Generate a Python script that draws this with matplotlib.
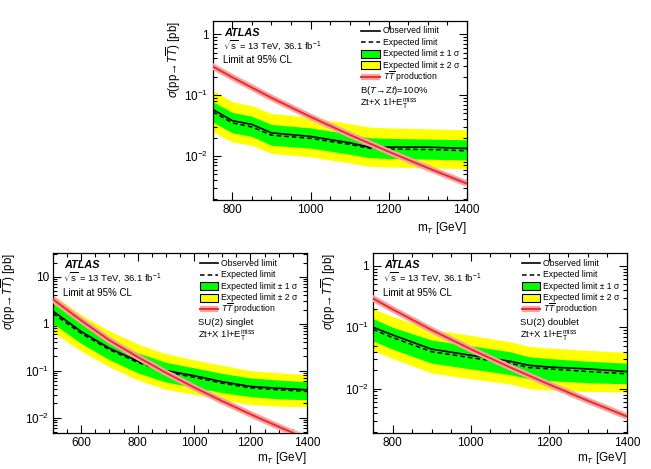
import numpy as np
import matplotlib
matplotlib.use('Agg')
import matplotlib.pyplot as plt
from matplotlib.patches import Rectangle
from matplotlib.ticker import MultipleLocator, FuncFormatter, NullFormatter, LogLocator

plt.rcParams['font.family'] = ['Liberation Sans', 'DejaVu Sans']
plt.rcParams['mathtext.fontset'] = 'custom'
plt.rcParams['mathtext.rm'] = 'Liberation Sans'
plt.rcParams['mathtext.it'] = 'Liberation Sans:italic'
plt.rcParams['mathtext.bf'] = 'Liberation Sans:bold'

# TT production cross section (pb)
tt_mass = [500, 600, 700, 800, 900, 1000, 1100, 1200, 1300, 1400]
tt_xsec = [3.30, 1.17, 0.442, 0.196, 0.0903, 0.0440, 0.0224, 0.0118, 0.00638, 0.00353]

# Top panel: B(T->Zt)=100%
zt_mass = [750, 800, 850, 900, 1000, 1100, 1150, 1200, 1300, 1400]
zt_obs = [0.058, 0.038, 0.033, 0.024, 0.021, 0.0165, 0.014, 0.014, 0.014, 0.0133]
zt_exp = [0.053, 0.035, 0.030, 0.022, 0.0195, 0.0155, 0.0135, 0.013, 0.0128, 0.0122]
zt_g_hi = [0.078, 0.052, 0.045, 0.033, 0.029, 0.023, 0.020, 0.0195, 0.019, 0.0185]
zt_g_lo = [0.036, 0.024, 0.021, 0.015, 0.0135, 0.0107, 0.0094, 0.0091, 0.0089, 0.0086]
zt_y_hi = [0.12, 0.078, 0.067, 0.050, 0.043, 0.034, 0.030, 0.029, 0.028, 0.027]
zt_y_lo = [0.025, 0.017, 0.015, 0.011, 0.0097, 0.0077, 0.0068, 0.0066, 0.0064, 0.0062]

# Bottom left: SU(2) singlet
sing_mass = [500, 600, 700, 800, 900, 1000, 1100, 1200, 1300, 1400]
sing_obs = [1.85, 0.68, 0.30, 0.16, 0.10, 0.078, 0.058, 0.046, 0.042, 0.039]
sing_exp = [1.65, 0.62, 0.28, 0.15, 0.094, 0.072, 0.054, 0.043, 0.039, 0.036]
sing_g_hi = [2.7, 1.0, 0.45, 0.24, 0.15, 0.115, 0.087, 0.070, 0.063, 0.058]
sing_g_lo = [1.0, 0.38, 0.17, 0.09, 0.057, 0.044, 0.034, 0.028, 0.025, 0.024]
sing_y_hi = [4.1, 1.55, 0.70, 0.37, 0.23, 0.17, 0.13, 0.10, 0.09, 0.082]
sing_y_lo = [0.66, 0.26, 0.12, 0.063, 0.040, 0.031, 0.024, 0.019, 0.0175, 0.017]

# Bottom right: SU(2) doublet
doub_mass = [750, 800, 900, 1000, 1100, 1150, 1200, 1300, 1400]
doub_obs = [0.10, 0.075, 0.044, 0.035, 0.028, 0.024, 0.0225, 0.021, 0.019]
doub_exp = [0.092, 0.068, 0.040, 0.032, 0.026, 0.022, 0.021, 0.019, 0.0175]
doub_g_hi = [0.138, 0.10, 0.062, 0.050, 0.040, 0.033, 0.031, 0.028, 0.026]
doub_g_lo = [0.060, 0.044, 0.026, 0.021, 0.017, 0.0145, 0.0135, 0.0125, 0.012]
doub_y_hi = [0.20, 0.15, 0.092, 0.074, 0.058, 0.049, 0.046, 0.042, 0.039]
doub_y_lo = [0.042, 0.031, 0.018, 0.0145, 0.012, 0.010, 0.0095, 0.009, 0.0088]

legend_labels = ['Observed limit', 'Expected limit', 'Expected limit \u00b1 1 \u03c3',
                 'Expected limit \u00b1 2 \u03c3', r'$T\overline{T}$ production']

GREEN = '#00ff00'
YELLOW = '#ffff00'
RED = '#ee2a2a'
PINK = '#f6a3a3'
DASH = (0, (3, 2))


def ylab(v, pos):
    e = int(round(np.log10(v)))
    if e == 0:
        return '1'
    if e == 1:
        return '10'
    return r'$10^{%d}$' % e


def draw_legend(ax, x0):
    # ROOT-like legend, drawn by hand so the rows are evenly spaced
    rows = [0.944, 0.880, 0.816, 0.752, 0.688]
    w = 0.072
    tr = ax.transAxes
    kw = dict(transform=tr, clip_on=False)
    ax.plot([x0, x0 + w], [rows[0]] * 2, color='k', lw=1.2, **kw)
    ax.plot([x0, x0 + w], [rows[1]] * 2, color='k', lw=1.1, ls=DASH, **kw)
    ax.add_patch(Rectangle((x0, rows[2] - 0.022), w, 0.044, facecolor=GREEN, edgecolor='k', lw=0.8, **kw))
    ax.add_patch(Rectangle((x0, rows[3] - 0.022), w, 0.044, facecolor=YELLOW, edgecolor='k', lw=0.8, **kw))
    ax.plot([x0, x0 + w], [rows[4]] * 2, color=PINK, lw=4.5, solid_capstyle='butt', **kw)
    ax.plot([x0, x0 + w], [rows[4]] * 2, color=RED, lw=1.4, **kw)
    for y, lab in zip(rows, legend_labels):
        ax.text(x0 + w + 0.012, y, lab, transform=tr, fontsize=6.2, va='center')


def draw_panel(ax, m, obs, exp, g_lo, g_hi, y_lo, y_hi, xlim, ylim, text1, text2,
               leg_x, ylab_x, xlab_y):
    ax.fill_between(m, y_lo, y_hi, color=YELLOW, lw=0, zorder=1)
    ax.fill_between(m, g_lo, g_hi, color=GREEN, lw=0, zorder=2)
    ax.plot(m, exp, color='k', lw=1.1, ls=DASH, zorder=3)
    ax.plot(m, obs, color='k', lw=1.2, zorder=4)
    ax.plot(tt_mass, tt_xsec, color=PINK, lw=4.5, solid_capstyle='butt', zorder=5)
    ax.plot(tt_mass, tt_xsec, color=RED, lw=1.4, zorder=6)

    ax.set_yscale('log')
    ax.set_xlim(xlim)
    ax.set_ylim(ylim)
    ax.xaxis.set_major_locator(MultipleLocator(200))
    ax.xaxis.set_minor_locator(MultipleLocator(50))
    ax.yaxis.set_major_locator(LogLocator(base=10))
    ax.yaxis.set_minor_locator(LogLocator(base=10, subs=np.arange(2, 10)))
    ax.yaxis.set_major_formatter(FuncFormatter(ylab))
    ax.yaxis.set_minor_formatter(NullFormatter())
    ax.tick_params(which='both', direction='in', top=True, right=True, labelsize=8.5, width=0.8)
    ax.tick_params(which='major', length=5.5, pad=3)
    ax.tick_params(which='minor', length=3)
    for s in ax.spines.values():
        s.set_linewidth(0.9)

    ax.set_xlabel(r'm$_{T}$ [GeV]', fontsize=8.5, ha='right', va='center')
    ax.xaxis.set_label_coords(1.0, xlab_y)
    ax.set_ylabel(r'$\sigma(\mathrm{pp}\!\rightarrow\! T\overline{T})$ [pb]', fontsize=8.3, ha='right')
    ax.yaxis.set_label_coords(ylab_x, 1.0)

    ax.text(0.045, 0.935, 'ATLAS', transform=ax.transAxes, fontsize=7.8,
            fontweight='bold', fontstyle='italic', va='center')
    ax.text(0.04, 0.866, r'$\sqrt{\mathrm{s}}$ = 13 TeV, 36.1 fb$^{-1}$', transform=ax.transAxes,
            fontsize=6.8, va='center')
    ax.text(0.04, 0.78, 'Limit at 95% CL', transform=ax.transAxes, fontsize=7.0, va='center')

    draw_legend(ax, leg_x)

    ax.text(leg_x - 0.007, 0.614, text1, transform=ax.transAxes, fontsize=6.8, va='center')
    ax.text(leg_x - 0.007, 0.540, text2, transform=ax.transAxes, fontsize=6.8, va='center')


fig = plt.figure(figsize=(6.51, 4.69), dpi=100)

ax_top = fig.add_axes([0.327, 0.5736, 0.390, 0.3817])
ax_bl = fig.add_axes([0.0814, 0.0768, 0.390, 0.3838])
ax_br = fig.add_axes([0.573, 0.0768, 0.390, 0.3838])

met = r'Zt+X 1l+E$_{\mathrm{T}}^{\mathrm{miss}}$'

draw_panel(ax_top, zt_mass, zt_obs, zt_exp, zt_g_lo, zt_g_hi, zt_y_lo, zt_y_hi,
           (750, 1400), (0.0019, 1.65), r'B($T\!\rightarrow\!$Z$t$)=100%', met,
           0.585, -0.117, -0.155)
draw_panel(ax_bl, sing_mass, sing_obs, sing_exp, sing_g_lo, sing_g_hi, sing_y_lo, sing_y_hi,
           (500, 1400), (0.0047, 32), 'SU(2) singlet', met,
           0.579, -0.136, -0.14)
draw_panel(ax_br, doub_mass, doub_obs, doub_exp, doub_g_lo, doub_g_hi, doub_y_lo, doub_y_hi,
           (750, 1400), (0.0019, 1.62), 'SU(2) doublet', met,
           0.585, -0.136, -0.14)

fig.savefig('out.png', dpi=100)
